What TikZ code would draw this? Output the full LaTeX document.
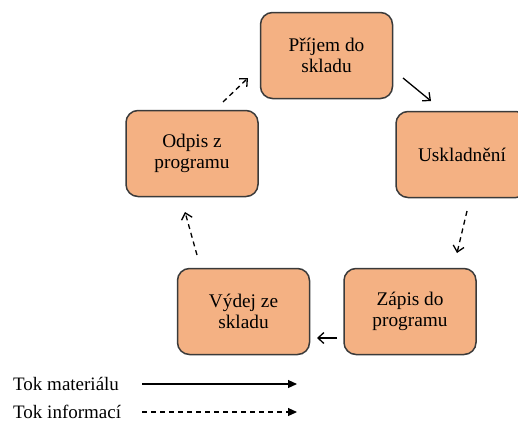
\documentclass[tikz,border=0pt]{standalone}
\usepackage{fontspec}
\setmainfont{Liberation Serif}
\usetikzlibrary{arrows.meta}
\definecolor{boxfill}{HTML}{F4B183}
\definecolor{boxline}{HTML}{3A3A3A}
\begin{document}
\begin{tikzpicture}[x=1pt,y=-1pt,
  stage/.style={draw=boxline,line width=1.5pt,fill=boxfill,rounded corners=12pt,
    minimum width=132pt,minimum height=86pt,align=center,inner sep=2pt,
    font=\fontsize{19.3}{21}\selectfont},
  flow/.style={line width=1.3pt,-{Straight Barb[length=6pt,width=11pt]}},
  info/.style={flow,dash pattern=on 5pt off 4pt},
  legtext/.style={anchor=base west,inner sep=0pt,font=\fontsize{19}{21}\selectfont},
  legline/.style={line width=1.2pt,-{Triangle[length=9pt,width=8pt]}}]
\useasboundingbox (0,0) rectangle (518,423);
\begin{scope}
\clip (0,0) rectangle (518,423);
% process stages
\node[stage] (prijem) at (326.5,55.5) {Příjem do\\skladu};
\node[stage] (usklad) at (462,154.5) {Uskladnění};
\node[stage] (odpis) at (192,153.5) {Odpis z\\programu};
\node[stage] (vydej) at (243.5,311.5) {Výdej ze\\skladu};
\node[stage] (zapis) at (410,311.5) {Zápis do\\programu};
\end{scope}
% connector ends
\coordinate (a1) at (403,78);  \coordinate (a2) at (431,101);
\coordinate (b1) at (467,211); \coordinate (b2) at (457,253);
\coordinate (c1) at (337,338); \coordinate (c2) at (317,338);
\coordinate (d1) at (197,255); \coordinate (d2) at (185,212);
\coordinate (e1) at (223,102); \coordinate (e2) at (248,78);
\draw[flow] (a1) -- (a2);
\draw[info] (b1) -- (b2);
\draw[flow] (c1) -- (c2);
\draw[info] (d1) -- (d2);
\draw[info] (e1) -- (e2);
% legend
\node[legtext] (lm) at (13,390) {Tok materiálu};
\node[legtext] (li) at (13,418) {Tok informací};
\coordinate (lm1) at (142,384); \coordinate (lm2) at (297,384);
\coordinate (li1) at (142,412); \coordinate (li2) at (297,412);
\draw[legline] (lm1) -- (lm2);
\draw[legline,dash pattern=on 5pt off 4pt] (li1) -- (li2);
\end{tikzpicture}
\end{document}
